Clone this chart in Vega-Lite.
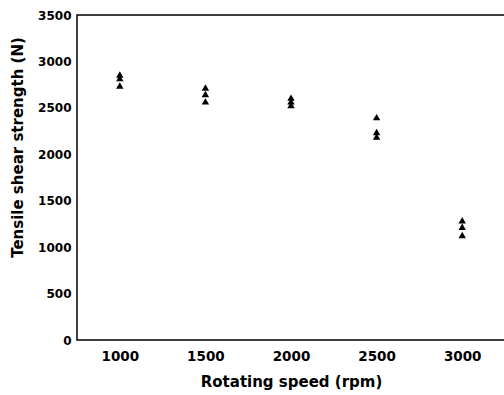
{
  "$schema": "https://vega.github.io/schema/vega-lite/v6.json",
  "autosize": {"type": "none"},
  "padding": {"left": 77, "top": 15, "right": 0, "bottom": 55},
  "width": 428,
  "height": 325,
  "background": "white",
  "config": {
    "view": {"stroke": "black", "strokeWidth": 1.5},
    "font": "DejaVu Sans"
  },
  "data": {
    "values": [
      {"speed": 1000, "strength": 2860},
      {"speed": 1000, "strength": 2820},
      {"speed": 1000, "strength": 2740},
      {"speed": 1500, "strength": 2720},
      {"speed": 1500, "strength": 2650},
      {"speed": 1500, "strength": 2570},
      {"speed": 2000, "strength": 2610},
      {"speed": 2000, "strength": 2570},
      {"speed": 2000, "strength": 2530},
      {"speed": 2500, "strength": 2400},
      {"speed": 2500, "strength": 2240},
      {"speed": 2500, "strength": 2190},
      {"speed": 3000, "strength": 1290},
      {"speed": 3000, "strength": 1220},
      {"speed": 3000, "strength": 1130}
    ]
  },
  "mark": {"type": "point", "shape": "triangle-up", "filled": true, "color": "black", "opacity": 1, "size": 55},
  "encoding": {
    "x": {
      "field": "speed", "type": "quantitative",
      "scale": {"domain": [750, 3250], "nice": false, "zero": false},
      "axis": {
        "title": "Rotating speed (rpm)", "values": [1000, 1500, 2000, 2500, 3000], "format": "d",
        "grid": false, "ticks": false, "domain": false,
        "labelFont": "DejaVu Sans", "labelFontWeight": "bold", "labelFontSize": 13.5, "labelColor": "black",
        "labelPadding": 9,
        "titleFont": "DejaVu Sans", "titleFontWeight": "bold", "titleFontSize": 15, "titleColor": "black",
        "titlePadding": 12
      }
    },
    "y": {
      "field": "strength", "type": "quantitative",
      "scale": {"domain": [0, 3500], "nice": false},
      "axis": {
        "title": "Tensile shear strength (N)", "values": [0, 500, 1000, 1500, 2000, 2500, 3000, 3500], "format": "d",
        "grid": false, "ticks": false, "domain": false,
        "labelFont": "DejaVu Sans", "labelFontWeight": "bold", "labelFontSize": 12, "labelColor": "black",
        "labelPadding": 6,
        "titleFont": "DejaVu Sans", "titleFontWeight": "bold", "titleFontSize": 15, "titleColor": "black",
        "titleX": -52, "titleY": 132
      }
    }
  }
}
